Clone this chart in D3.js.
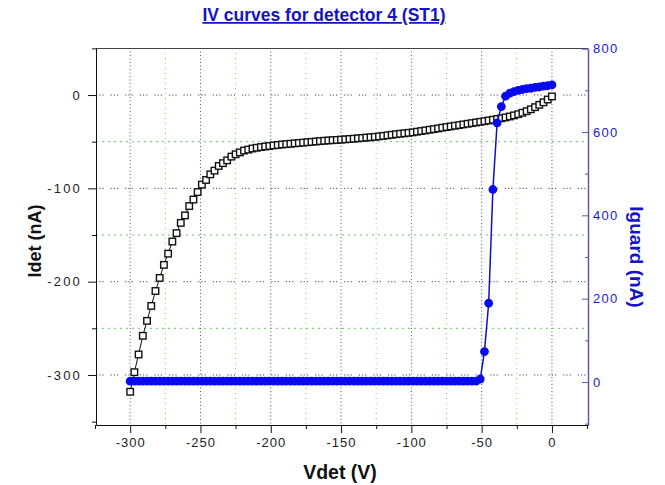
<!DOCTYPE html>
<html><head><meta charset="utf-8">
<script src="https://cdn.jsdelivr.net/npm/d3@7"></script>
<style>body{margin:0;background:#fff}svg{display:block}</style>
</head><body>
<svg id="chart" width="665" height="485"></svg>
<script>
// ---- data ----
const vdet = [-300,-297,-294,-291,-288,-285,-282,-279,-276,-273,-270,-267,-264,-261,-258,-255,-252,-249,-246,-243,-240,-237,-234,-231,-228,
-225,-222,-219,-216,-213,-210,-207,-204,-201,-198,-195,-192,-189,-186,-183,-180,-177,-174,-171,-168,-165,-162,-159,-156,-153,-150,
-147,-144,-141,-138,-135,-132,-129,-126,-123,-120,-117,-114,-111,-108,-105,-102,-99,-96,-93,-90,-87,-84,-81,-78,-75,-72,-69,-66,-63,-60,
-57,-54,-51,-48,-45,-42,-39,-36,-33,-30,-27,-24,-21,-18,-15,-12,-9,-6,-3,0];
const idet = [-318,-297,-278,-258,-242,-226,-210,-196,-182,-170,-157,-148,-137,-129,-119,-112,-104,-96,-91,-85,-81,-76,-73,-70,-66,
-63.5,-61.5,-59.5,-58.5,-57.3,-56.5,-55.8,-55.2,-54.6,-54,
-53.5,-53,-52.6,-52.2,-51.8,-51.4,-51,-50.6,-50.2,-49.8,
-49.4,-49,-48.7,-48.4,-48.1,-47.8,-47.5,-47.1,-46.8,-46.4,
-46,-45.6,-45.2,-44.8,-44.3,-43.8,-43.2,-42.6,-42,-41.5,
-41,-40.5,-40,-39.3,-38.6,-37.9,-37.2,-36.5,-35.8,-35,
-34.3,-33.6,-32.9,-32.2,-31.5,-30.8,-30.1,-29.4,-28.7,-28,
-27.3,-26.5,-25.7,-24.9,-24,-23,-21.8,-20.5,-19,-17.3,
-15.3,-13,-10.5,-7.8,-4.8,-1.5];
const iguard = [2,2,2,2,2,2,2,2,2,2,2,2,2,2,2,2,2,2,2,2,2,2,2,2,2,
2,2,2,2,2,2,2,2,2,2,2,2,2,2,2,2,2,2,2,2,2,2,2,2,2,2,
2,2,2,2,2,2,2,2,2,2,2,2,2,2,2,2,2,2,2,2,2,2,2,2,2,2,2,2,2,2,
2,2,7,73,189,462,622,661,686,693,697,700,702,704,705,707,708,710,711,713];

const xMajorTicks = [-300,-250,-200,-150,-100,-50,0];
const xMinorTicks = [-325,-275,-225,-175,-125,-75,-25,25];
const yLeftMajorTicks = [0,-100,-200,-300];
const yLeftMinorTicks = [50,-50,-150,-250,-350];
const yRightMajorTicks = [0,200,400,600,800];
const yRightMinorTicks = [-100,100,300,500,700];
const xGridMinor = [-275,-225,-175,-125,-75,-25];
const yGridMinor = [-50,-150,-250];

const titleText = "IV curves for detector 4 (ST1)";
const xLabel = "Vdet (V)";
const yLeftLabel = "Idet (nA)";
const yRightLabel = "Iguard (nA)";

// ---- layout ----
const L = 96, R = 588, T = 48, B = 425;
const svg = d3.select("#chart");
const x = d3.scaleLinear().domain([-324.3, 25.65]).range([L, R]);
const yL = d3.scaleLinear().domain([-353.6, 50.4]).range([B, T]);
const yR = d3.scaleLinear().domain([-103.2, 801.6]).range([B, T]);
const fmt = d => String(d);
const FONT = "'Liberation Sans', Arial, sans-serif";

// grid
const grid = svg.append("g");
grid.selectAll(".gvM").data(xMajorTicks).enter().append("line")
  .attr("x1", d => x(d)).attr("x2", d => x(d)).attr("y1", T).attr("y2", B)
  .attr("stroke", "#555570").attr("stroke-width", 1).attr("stroke-dasharray", "1,2.5");
grid.selectAll(".gvm").data(xGridMinor).enter().append("line")
  .attr("x1", d => x(d)).attr("x2", d => x(d)).attr("y1", T).attr("y2", B)
  .attr("stroke", "#7fcf7f").attr("stroke-width", 1).attr("stroke-dasharray", "1,4");
grid.selectAll(".ghM").data(yLeftMajorTicks).enter().append("line")
  .attr("x1", L).attr("x2", R).attr("y1", d => yL(d)).attr("y2", d => yL(d))
  .attr("stroke", "#44446a").attr("stroke-width", 1).attr("stroke-dasharray", "1.2,2,1.2,2,1.2,7");
grid.selectAll(".ghm").data(yGridMinor).enter().append("line")
  .attr("x1", L).attr("x2", R).attr("y1", d => yL(d)).attr("y2", d => yL(d))
  .attr("stroke", "#66c466").attr("stroke-width", 1).attr("stroke-dasharray", "2,4");

// top border
svg.append("line").attr("x1", L).attr("x2", R).attr("y1", T + 0.5).attr("y2", T + 0.5)
  .attr("stroke", "#444").attr("stroke-width", 1);

// Idet series
const lineL = d3.line().x((d, i) => x(vdet[i])).y(d => yL(d));
svg.append("path").datum(idet).attr("d", lineL).attr("fill", "none")
  .attr("stroke", "#111").attr("stroke-width", 1);
svg.append("g").selectAll("rect").data(idet).enter().append("rect")
  .attr("x", (d, i) => x(vdet[i]) - 3.25).attr("y", d => yL(d) - 3.25)
  .attr("width", 6.5).attr("height", 6.5)
  .attr("fill", "#fff").attr("stroke", "#111").attr("stroke-width", 1.4);

// Iguard series
const lineR = d3.line().x((d, i) => x(vdet[i])).y(d => yR(d));
svg.append("path").datum(iguard).attr("d", lineR).attr("fill", "none")
  .attr("stroke", "#1010c8").attr("stroke-width", 1.5);
svg.append("g").selectAll("circle").data(iguard).enter().append("circle")
  .attr("cx", (d, i) => x(vdet[i])).attr("cy", d => yR(d)).attr("r", 4.4)
  .attr("fill", "#0a0af0");

// axes
function styleAxis(g, color, textColor, ls) {
  g.selectAll("path,line").attr("stroke", color);
  g.selectAll("text").attr("fill", textColor).style("font-family", FONT)
    .style("font-size", "13px").style("letter-spacing", ls);
}
const gx = svg.append("g").attr("transform", `translate(0,${B})`)
  .call(d3.axisBottom(x).tickValues(xMajorTicks).tickFormat(fmt).tickSize(8).tickSizeOuter(0).tickPadding(5));
styleAxis(gx, "#111", "#222", "1px");
const gxm = svg.append("g").attr("transform", `translate(0,${B})`)
  .call(d3.axisBottom(x).tickValues(xMinorTicks).tickFormat("").tickSize(4).tickSizeOuter(0));
gxm.select(".domain").remove(); gxm.selectAll("line").attr("stroke", "#111");

const gl = svg.append("g").attr("transform", `translate(${L},0)`)
  .call(d3.axisLeft(yL).tickValues(yLeftMajorTicks).tickFormat(fmt).tickSize(8).tickSizeOuter(0).tickPadding(6));
styleAxis(gl, "#111", "#222", "2.2px");
const glm = svg.append("g").attr("transform", `translate(${L},0)`)
  .call(d3.axisLeft(yL).tickValues(yLeftMinorTicks).tickFormat("").tickSize(4).tickSizeOuter(0));
glm.select(".domain").remove(); glm.selectAll("line").attr("stroke", "#111");

const gr = svg.append("g").attr("transform", `translate(${R},0)`)
  .call(d3.axisRight(yR).tickValues(yRightMajorTicks).tickFormat(fmt).tickSize(-6).tickSizeOuter(0).tickPadding(5));
styleAxis(gr, "#5a5ab8", "#1a1acc", "1.3px");
gr.select(".domain").attr("stroke-width", 1.5);
const grm = svg.append("g").attr("transform", `translate(${R},0)`)
  .call(d3.axisRight(yR).tickValues(yRightMinorTicks).tickFormat("").tickSize(-3).tickSizeOuter(0));
grm.select(".domain").remove(); grm.selectAll("line").attr("stroke", "#5a5ab8");

// titles
svg.append("text").attr("x", 324).attr("y", 21).attr("text-anchor", "middle")
  .style("font-family", FONT).style("font-size", "17.5px").style("font-weight", "bold")
  .style("text-decoration", "underline").attr("fill", "#1414c0").text(titleText);
svg.append("text").attr("x", 340).attr("y", 479).attr("text-anchor", "middle")
  .style("font-family", FONT).style("font-size", "19.5px").style("font-weight", "bold")
  .attr("fill", "#111").text(xLabel);
svg.append("text").attr("transform", "translate(41,241) rotate(-90)").attr("text-anchor", "middle")
  .style("font-family", FONT).style("font-size", "18px").style("font-weight", "bold")
  .attr("fill", "#111").text(yLeftLabel);
svg.append("text").attr("transform", "translate(630,257) rotate(90)").attr("text-anchor", "middle")
  .style("font-family", FONT).style("font-size", "19px").style("font-weight", "bold")
  .attr("fill", "#1414c8").text(yRightLabel);
</script>
</body></html>
